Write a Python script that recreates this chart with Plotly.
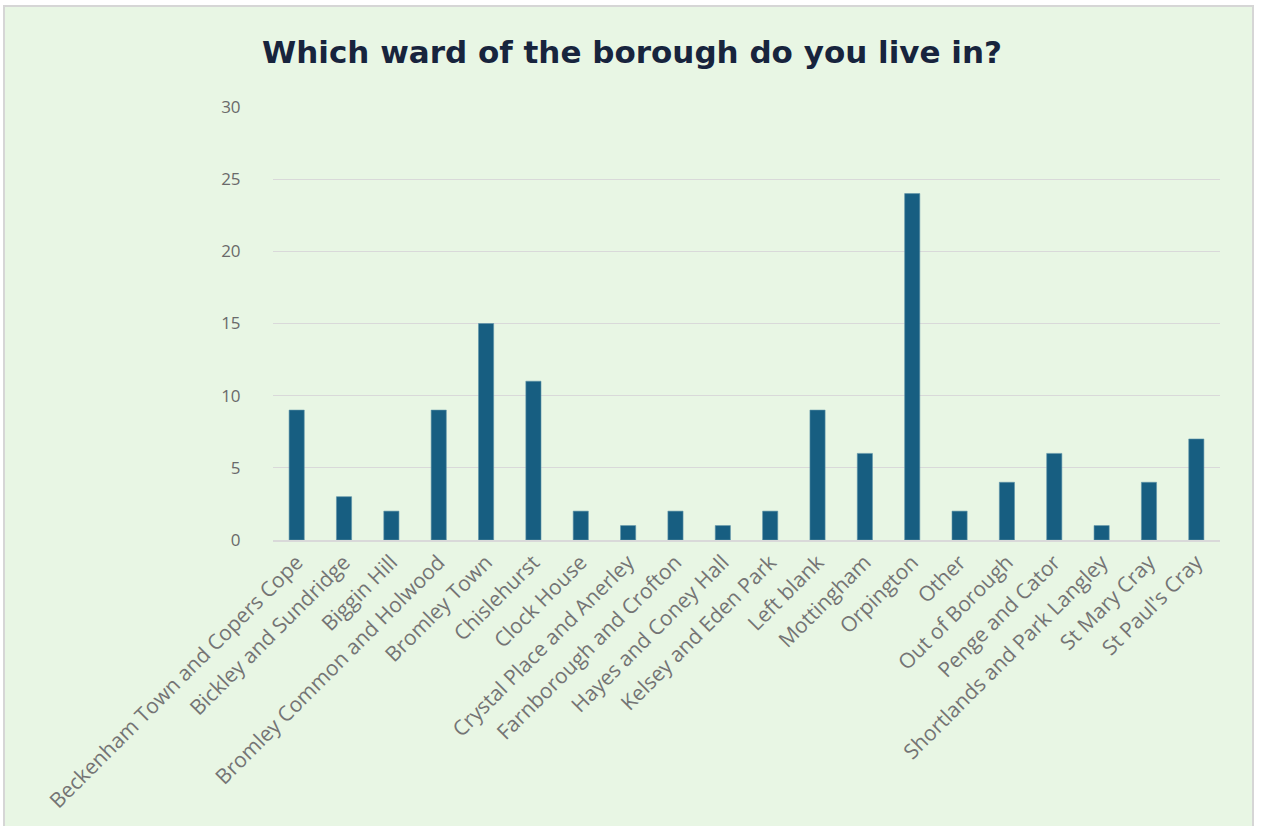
import plotly.graph_objects as go

# Survey responses by ward
wards = [
    "Beckenham Town and Copers Cope", "Bickley and Sundridge", "Biggin Hill",
    "Bromley Common and Holwood", "Bromley Town", "Chislehurst", "Clock House",
    "Crystal Place and Anerley", "Farnborough and Crofton", "Hayes and Coney Hall",
    "Kelsey and Eden Park", "Left blank", "Mottingham", "Orpington", "Other",
    "Out of Borough", "Penge and Cator", "Shortlands and Park Langley",
    "St Mary Cray", "St Paul's Cray",
]
counts = [9, 3, 2, 9, 15, 11, 2, 1, 2, 1, 2, 9, 6, 24, 2, 4, 6, 1, 4, 7]
y_ticks = [0, 5, 10, 15, 20, 25, 30]

W, H = 1262, 826
ML, MR, MT, MB = 273, 42, 107, 286
plot_w = W - ML - MR
plot_h = H - MT - MB

fig = go.Figure(
    go.Bar(
        x=wards,
        y=counts,
        width=0.32,
        marker=dict(color="#175E81", line=dict(color="#5E93A8", width=0.6)),
    )
)

# Green chart panel with a thin grey frame
fig.add_shape(
    type="rect",
    xref="paper", yref="paper",
    x0=(4 - ML) / plot_w, x1=(1253 - ML) / plot_w,
    y0=(H - 830 - MB) / plot_h, y1=(H - 6 - MB) / plot_h,
    fillcolor="#E8F6E4",
    line=dict(color="#D6D6D6", width=2),
    layer="below",
)

fig.update_layout(
    width=W, height=H,
    margin=dict(l=ML, r=MR, t=MT, b=MB, autoexpand=False),
    paper_bgcolor="white",
    plot_bgcolor="rgba(0,0,0,0)",
    showlegend=False,
    title=dict(
        text="<b>Which ward of the borough do you live in?</b>",
        x=262 / W, xanchor="left",
        y=1 - 52 / H, yanchor="middle",
        font=dict(family="DejaVu Sans, sans-serif", size=31, color="#17243D"),
    ),
    xaxis=dict(
        automargin=False,
        tickangle=-45,
        tickfont=dict(family="Open Sans, sans-serif", size=21, color="#747474"),
        showgrid=False,
        showline=True, linecolor="#D9D9D9", linewidth=1.5,
        ticks="",
    ),
    yaxis=dict(
        automargin=False,
        range=[0, 30],
        tickvals=y_ticks,
        tickfont=dict(family="Open Sans, sans-serif", size=17, color="#6A6A6A"),
        showgrid=True, gridcolor="#D9D9D9", gridwidth=1,
        zeroline=False,
        ticks="outside", ticklen=28, tickcolor="rgba(0,0,0,0)",
    ),
)

fig.write_html("out.html")
